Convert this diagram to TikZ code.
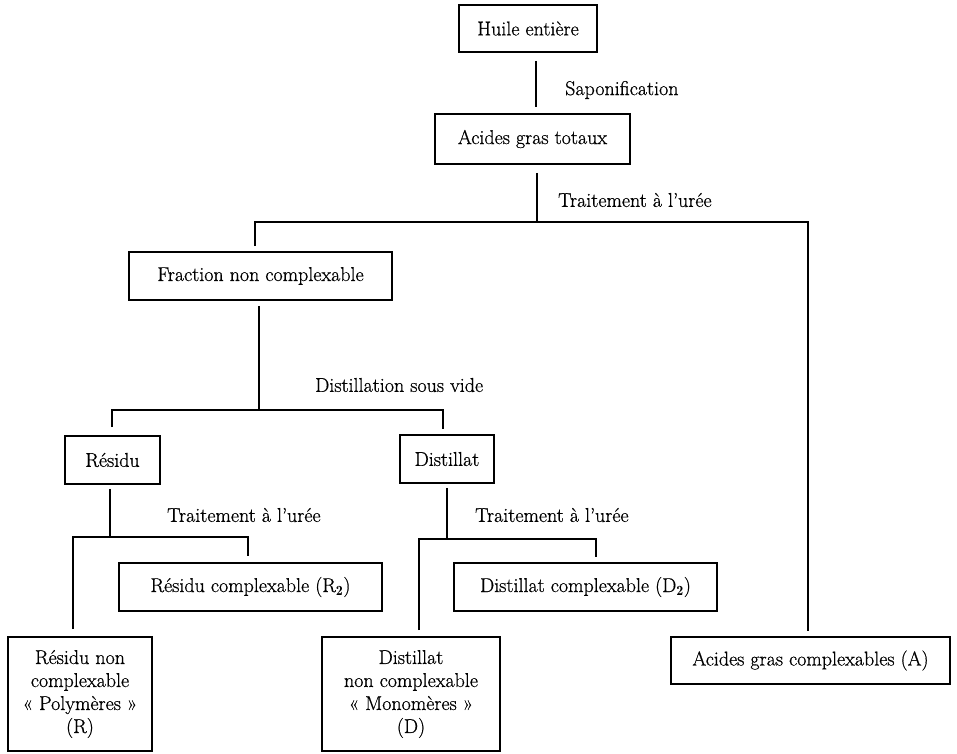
\documentclass[tikz,border=0pt]{standalone}
\usepackage{fontspec}
\newfontfamily\diag{Latin Modern Roman}[FakeBold=0.7]
\begin{document}
\begin{tikzpicture}[x=1pt,y=-1pt,
  box/.style={draw, line width=1.6pt, inner sep=0pt, align=center,
    font=\diag\fontsize{20}{23}\selectfont},
  lbl/.style={inner sep=0pt, anchor=west, font=\diag\fontsize{20}{23}\selectfont},
  conn/.style={line width=1.4pt}]
\useasboundingbox (0,0) rectangle (957,753);
% boxes
\node[box, minimum width=138pt, minimum height=47pt] (huile) at (528,28.5) {Huile entière};
\node[box, minimum width=195pt, minimum height=50pt] (agt) at (532.5,139) {Acides gras totaux};
\node[box, minimum width=263pt, minimum height=48pt] (frac) at (260.5,276) {Fraction non complexable};
\node[box, minimum width=95pt, minimum height=48pt] (residu) at (112.5,460) {Résidu};
\node[box, minimum width=94pt, minimum height=48pt] (distillat) at (447,459) {Distillat};
\node[box, minimum width=263pt, minimum height=48pt] (rc) at (250.5,587) {Résidu complexable (R$_{\mathbf{2}}$)};
\node[box, minimum width=263pt, minimum height=48pt] (dc) at (585.5,587) {Distillat complexable (D$_{\mathbf{2}}$)};
\node[box, minimum width=144pt, minimum height=114pt] (rnc) at (80,694) {Résidu non\\complexable\\«~Polymères~»\\(R)};
\node[box, minimum width=178pt, minimum height=114pt] (dnc) at (411,694) {Distillat\\non complexable\\«~Monomères~»\\(D)};
\node[box, minimum width=279pt, minimum height=47pt] (acA) at (810.5,660.5) {Acides gras complexables (A)};
% labels
\node[lbl] (sapo) at (565,90) {Saponification};
\node[lbl] (ur1) at (558,200) {Traitement à l’urée};
\node[lbl] (dist) at (315,385) {Distillation sous vide};
\node[lbl] (ur2) at (167,515) {Traitement à l’urée};
\node[lbl] (ur3) at (475,515) {Traitement à l’urée};
% junctions
\coordinate (t1) at (537,222);
\coordinate (tR) at (808,222);
\coordinate (d1) at (259,410);
\coordinate (dR) at (443,410);
\coordinate (r1) at (110,537);
\coordinate (rR) at (248,537);
\coordinate (s1) at (447,539);
\coordinate (sR) at (596,539);
% connectors
\draw[conn] ([xshift=8pt,yshift=-8pt]huile.south) -- ([xshift=3.5pt,yshift=6pt]agt.north);
\draw[conn] ([xshift=4.5pt,yshift=-8pt]agt.south) -- (t1);
\draw[conn] ([xshift=-5.5pt,yshift=5pt]frac.north) |- (tR) -- ([xshift=-2.5pt,yshift=5pt]acA.north);
\draw[conn] ([xshift=-1.5pt,yshift=-5pt]frac.south) -- (d1);
\draw[conn] ([xshift=-0.5pt,yshift=8pt]residu.north) |- (dR) -- ([xshift=-4pt,yshift=5pt]distillat.north);
\draw[conn] ([xshift=-2.5pt,yshift=-4pt]residu.south) -- (r1);
\draw[conn] ([xshift=-7pt,yshift=7pt]rnc.north) |- (rR) -- ([xshift=-2.5pt,yshift=6pt]rc.north);
\draw[conn] ([yshift=-4pt]distillat.south) -- (s1);
\draw[conn] ([xshift=8pt,yshift=6pt]dnc.north) |- (sR) -- ([xshift=10.5pt,yshift=5pt]dc.north);
\end{tikzpicture}
\end{document}
